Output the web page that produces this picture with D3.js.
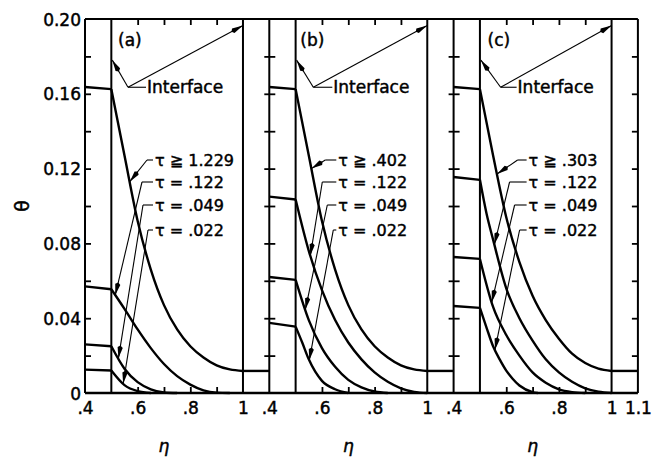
<!DOCTYPE html>
<html><head><meta charset="utf-8">
<script src="https://cdn.jsdelivr.net/npm/d3@7"></script>
<style>
body{margin:0;background:#fff}
svg{display:block}
text{font-family:"DejaVu Sans",sans-serif;fill:#000;stroke:#000;stroke-width:0.45px}
.ax path.domain{display:none}
.ax line{stroke:#000;stroke-width:1.8px}
</style>
</head><body>
<svg id="chart" width="658" height="458"></svg>
<script>
// ---------- data ----------
const panelNames = ["(a)", "(b)", "(c)"];
const steadyLabels = ["τ ≧ 1.229", "τ ≧ .402", "τ ≧ .303"];
const transientLabels = ["τ = .122", "τ = .049", "τ = .022"];
const thetaTickValues = [0, 0.04, 0.08, 0.12, 0.16, 0.20];
const thetaTickLabels = ["0", "0.04", "0.08", "0.12", "0.16", "0.20"];
const thetaMinorTicks = [0.02, 0.04, 0.06, 0.08, 0.10, 0.12, 0.14, 0.16, 0.18];
const etaTickValues = [0.4, 0.6, 0.8, 1.0];
const etaTickLabels = [".4", ".6", ".8", "1"];
const etaMinorTicks = [0.6, 0.7, 0.8, 0.9];
const etaEndLabel = "1.1";

// panel (a)
const aSteady = [[0.4,0.1636],[0.5,0.1625],[0.55,0.127],[0.6,0.092],[0.65,0.066],[0.7,0.047],[0.75,0.034],[0.8,0.025],[0.85,0.019],[0.9,0.0148],[0.95,0.0126],[1.0,0.0118],[1.1,0.0118]];
const aTau122 = [[0.4,0.057],[0.5,0.0555],[0.55,0.045],[0.6,0.034],[0.65,0.024],[0.7,0.0155],[0.75,0.009],[0.8,0.0045],[0.85,0.0014],[0.9,0.0002],[0.95,0]];
const aTau049 = [[0.4,0.026],[0.5,0.025],[0.55,0.013],[0.6,0.0058],[0.65,0.002],[0.7,0.0003],[0.75,0]];
const aTau022 = [[0.4,0.0125],[0.5,0.012],[0.55,0.0042],[0.6,0.001],[0.65,0]];
// panel (b)
const bSteady = [[0.4,0.1636],[0.5,0.1625],[0.55,0.127],[0.6,0.092],[0.65,0.066],[0.7,0.047],[0.75,0.034],[0.8,0.025],[0.85,0.019],[0.9,0.0148],[0.95,0.0126],[1.0,0.0118],[1.1,0.0118]];
const bTau122 = [[0.4,0.105],[0.5,0.1035],[0.55,0.076],[0.6,0.055],[0.65,0.039],[0.7,0.027],[0.75,0.018],[0.8,0.011],[0.85,0.006],[0.9,0.0025],[0.95,0.0006],[1.0,0]];
const bTau049 = [[0.4,0.062],[0.5,0.0605],[0.55,0.039],[0.6,0.024],[0.65,0.014],[0.7,0.007],[0.75,0.003],[0.8,0.0008],[0.85,0]];
const bTau022 = [[0.4,0.0375],[0.5,0.0355],[0.525,0.027],[0.55,0.018],[0.6,0.0065],[0.65,0.002],[0.7,0]];
// panel (c)
const cSteady = [[0.4,0.1636],[0.5,0.1625],[0.55,0.127],[0.6,0.094],[0.65,0.070],[0.7,0.052],[0.75,0.039],[0.8,0.029],[0.85,0.021],[0.9,0.016],[0.95,0.013],[1.0,0.0118],[1.1,0.0118]];
const cTau122 = [[0.4,0.1155],[0.5,0.114],[0.525,0.096],[0.55,0.082],[0.6,0.056],[0.65,0.040],[0.7,0.028],[0.75,0.018],[0.8,0.011],[0.85,0.006],[0.9,0.0025],[0.95,0.0007],[1.0,0]];
const cTau049 = [[0.4,0.0727],[0.5,0.0717],[0.55,0.046],[0.6,0.031],[0.65,0.020],[0.7,0.011],[0.75,0.0055],[0.8,0.002],[0.85,0.0005],[0.9,0]];
const cTau022 = [[0.4,0.0465],[0.5,0.0455],[0.525,0.035],[0.55,0.025],[0.575,0.018],[0.6,0.012],[0.625,0.0075],[0.65,0.004],[0.7,0.0005],[0.72,0]];

const panelSeries = [
  [aSteady, aTau122, aTau049, aTau022],
  [bSteady, bTau122, bTau049, bTau022],
  [cSteady, cTau122, cTau049, cTau022]
];

// ---------- layout ----------
const mLeft = 85, mTop = 19, mBottom = 393, pw = 184.3;
const svg = d3.select("#chart");
const y = d3.scaleLinear().domain([0, 0.2]).range([mBottom, mTop]);
const xs = [0,1,2].map(i => d3.scaleLinear().domain([0.4, 1.1]).range([mLeft + i*pw, mLeft + (i+1)*pw]));

// annotation layout (pixel offsets from panel's left edge)
const annot = [
  {nameX:33, ifaceX:62, jX:43, labelX:70, dashX:[62,57,58,63], tipEta:[0.57,0.515,0.527,0.545]},
  {nameX:31, ifaceX:64, jX:44, labelX:69, dashX:[56,53,58,64], tipEta:[0.56,0.556,0.537,0.552]},
  {nameX:34, ifaceX:64, jX:47, labelX:75, dashX:[64,56,61,66], tipEta:[0.565,0.555,0.545,0.557]}
];
const labelBase = [166, 188, 211, 236];

function interp(series, eta){
  for (let k=0;k<series.length-1;k++){
    const [x0,y0]=series[k],[x1,y1]=series[k+1];
    if (eta>=x0 && eta<=x1) return y0+(y1-y0)*(eta-x0)/(x1-x0);
  }
  return series[series.length-1][1];
}

const g = svg.append("g");

// curves
panelSeries.forEach((ser, i) => {
  const x = xs[i];
  const line = d3.line().x(d=>x(d[0])).y(d=>y(d[1]));
  const smooth = d3.line().x(d=>x(d[0])).y(d=>y(d[1])).curve(d3.curveMonotoneX);
  ser.forEach(s => {
    const solid = s.filter(d=>d[0]<=0.5);
    const fluid = s.filter(d=>d[0]>=0.5 && d[0]<=1.0);
    const outer = s.filter(d=>d[0]>=1.0);
    g.append("path").attr("d", line(solid)).attr("fill","none").attr("stroke","#000").attr("stroke-width",2.4);
    g.append("path").attr("d", smooth(fluid)).attr("fill","none").attr("stroke","#000").attr("stroke-width",2.4);
    if (outer.length>1) g.append("path").attr("d", line(outer)).attr("fill","none").attr("stroke","#000").attr("stroke-width",2.4);
  });
});

// frame
const xEnd = xs[2](1.1);
g.append("line").attr("x1",mLeft).attr("x2",xEnd).attr("y1",mTop).attr("y2",mTop).attr("stroke","#000").attr("stroke-width",2);
g.append("line").attr("x1",mLeft).attr("x2",xEnd).attr("y1",mBottom).attr("y2",mBottom).attr("stroke","#000").attr("stroke-width",2.6);
xs.forEach((x,i) => {
  [0.4,0.5,1.0].forEach(v => {
    g.append("line").attr("x1",x(v)).attr("x2",x(v)).attr("y1",mTop).attr("y2",mBottom).attr("stroke","#000").attr("stroke-width",2);
  });
});
g.append("line").attr("x1",xEnd).attr("x2",xEnd).attr("y1",mTop).attr("y2",mBottom).attr("stroke","#000").attr("stroke-width",2);

// ticks via d3 axes
function tickAxis(axis, tx, ty){
  g.append("g").attr("class","ax").attr("transform",`translate(${tx},${ty})`).call(axis)
    .call(s=>s.selectAll("text").remove());
}
xs.forEach((x,i) => {
  const x0 = x(0.4);
  tickAxis(d3.axisRight(y).tickValues(thetaMinorTicks).tickSize(6), x0, 0);
  if (i>0) tickAxis(d3.axisLeft(y).tickValues(thetaMinorTicks).tickSize(5), x0, 0);
  tickAxis(d3.axisBottom(x).tickValues(etaMinorTicks).tickSize(6), 0, mTop);
  tickAxis(d3.axisTop(x).tickValues(etaMinorTicks).tickSize(6), 0, mBottom);
});
tickAxis(d3.axisLeft(y).tickValues(thetaMinorTicks).tickSize(6), xEnd, 0);

// y labels
const yLab = g.append("g").attr("transform",`translate(${mLeft},0)`)
  .call(d3.axisLeft(y).tickValues(thetaTickValues).tickSize(0).tickPadding(4).tickFormat((d,k)=>thetaTickLabels[k]));
yLab.select("path.domain").remove();
yLab.attr("font-family",null).attr("font-size",null);
yLab.selectAll("text").attr("font-size",17).attr("fill","#000").attr("dy","0.36em");

// x labels
xs.forEach((x,i) => {
  const xl = g.append("g").attr("transform",`translate(0,${mBottom})`)
    .call(d3.axisBottom(x).tickValues(i===2 ? etaTickValues.concat([1.1]) : etaTickValues).tickSize(0).tickPadding(9)
      .tickFormat((d,k)=> k<etaTickLabels.length ? etaTickLabels[k] : etaEndLabel));
  xl.select("path.domain").remove();
  xl.attr("font-family",null).attr("font-size",null);
  xl.selectAll("text").attr("font-size",17).attr("fill","#000").attr("dy","0.71em");
  g.append("text").attr("x",x(0.7)).attr("y",452).attr("text-anchor","middle").attr("font-size",17).attr("font-style","italic").text("η");
});
// theta axis label
g.append("text").attr("transform","translate(22,206) rotate(-90)").attr("text-anchor","middle").attr("dy","0.35em").attr("font-size",19).text("θ");

// arrows
function arrow(p, t, w){
  g.append("line").attr("x1",p[0]).attr("y1",p[1]).attr("x2",t[0]).attr("y2",t[1]).attr("stroke","#000").attr("stroke-width",1.1);
  const dx=t[0]-p[0], dy=t[1]-p[1], L=Math.hypot(dx,dy), ux=dx/L, uy=dy/L;
  const len=11, hw=w||2.6;
  const bx=t[0]-ux*len, by=t[1]-uy*len;
  g.append("path").attr("d",`M${t[0]},${t[1]}L${bx-uy*hw},${by+ux*hw}L${bx-ux*2},${by-uy*2}L${bx+uy*hw},${by-ux*hw}Z`).attr("fill","#000");
}

xs.forEach((x,i) => {
  const x0 = x(0.4), A = annot[i];
  g.append("text").attr("x",x0+A.nameX).attr("y",46).attr("font-size",17).text(panelNames[i]);
  // interface
  const jy = y(0.1635), jx = x0+A.jX;
  g.append("text").attr("x",x0+A.ifaceX).attr("y",jy+6).attr("font-size",17).text("Interface");
  g.append("line").attr("x1",jx).attr("x2",x0+A.ifaceX-1).attr("y1",jy).attr("y2",jy).attr("stroke","#000").attr("stroke-width",1.1);
  arrow([jx,jy],[x(0.5)+1,y(0.178)]);
  arrow([jx,jy],[x(1.0),y(0.1965)]);
  // tau labels
  const labels = [steadyLabels[i]].concat(transientLabels);
  panelSeries[i].forEach((s,k) => {
    const by = labelBase[k], cy = by-6;
    g.append("text").attr("x",x0+A.labelX).attr("y",by).attr("font-size",16).text(labels[k]);
    const dx0 = x0+A.dashX[k];
    g.append("line").attr("x1",dx0).attr("x2",x0+A.labelX-2).attr("y1",cy).attr("y2",cy).attr("stroke","#000").attr("stroke-width",1.1);
    const te = A.tipEta[k];
    arrow([dx0,cy],[x(te),y(interp(s,te))]);
  });
});
</script>
</body></html>
